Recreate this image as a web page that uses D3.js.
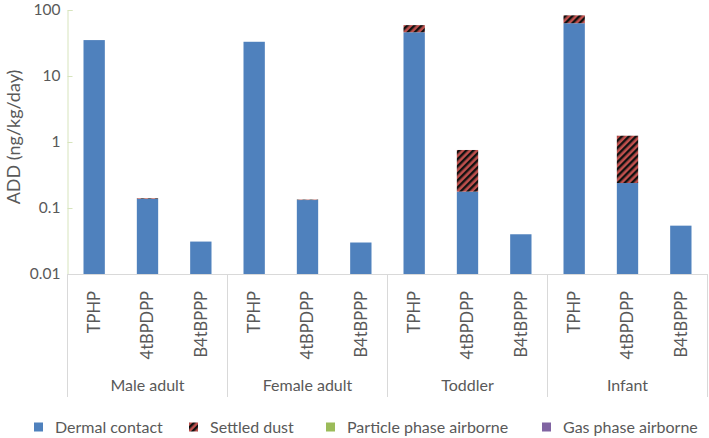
<!DOCTYPE html>
<html><head><meta charset="utf-8">
<script src="https://cdn.jsdelivr.net/npm/d3@7"></script>
<style>body{margin:0;background:#fff}svg{display:block;font-family:Lato,"Open Sans",sans-serif}</style>
</head><body><svg id="c" width="709" height="438"></svg>
<script>
const groups = ["Male adult","Female adult","Toddler","Infant"];
const compounds = ["TPHP","4tBPDPP","B4tBPPP"];
const yTicks = [0.01,0.1,1,10,100];
const seriesNames = ["Dermal contact","Settled dust","Particle phase airborne","Gas phase airborne"];
// values per group x compound (row-major)
const dermal   = [35,0.137,0.031, 33,0.132,0.030, 46,0.177,0.040, 63,0.239,0.054];
const settled  = [0,0.003,0, 0,0.002,0, 13,0.58,0, 20,1.006,0];
const particle = [0,0,0, 0,0,0, 0,0,0, 0,0,0];
const gas      = [0,0,0, 0,0,0, 0,0,0, 0,0,0];
const colors = ["#4f81bd","url(#hatch)","#9bbb59","#8064a2"];

const svg = d3.select("#c");
const defs = svg.append("defs");
const pat = defs.append("pattern").attr("id","hatch").attr("patternUnits","userSpaceOnUse")
  .attr("width",5).attr("height",5).attr("patternTransform","rotate(45)");
pat.append("rect").attr("width",5).attr("height",5).attr("fill","#c0504d");
pat.append("rect").attr("width",2.4).attr("height",5).attr("fill","#111");

const x0 = d3.scaleBand().domain(groups).range([67.5,707.5]);
const x1 = d3.scaleBand().domain(compounds).range([0,x0.bandwidth()]).paddingInner(0.6).paddingOuter(0.3);
const y = d3.scaleLog().domain([0.01,100]).range([274,10]);
const textCol = "#595959";

// y axis
const ya = svg.append("g").attr("transform","translate(67.5,0)")
  .call(d3.axisLeft(y).tickValues(yTicks).tickSize(-5).tickPadding(7).tickFormat(d=>String(d)));
ya.select(".domain").attr("stroke","#d7e4bd");
ya.selectAll(".tick line").attr("stroke","#d7e4bd");
ya.selectAll("text").attr("fill",textCol).style("font-size","15.5px").style("font-family","Lato,sans-serif");

// bars
const series = [dermal,settled,particle,gas];
const data = [];
groups.forEach((g,gi)=>compounds.forEach((c,ci)=>{
  let base = 0;
  series.forEach((s,si)=>{
    const v = s[gi*3+ci];
    const lo = si===0 ? 0.01 : base;
    const hi = base + v;
    if(v>0) data.push({g,c,si,lo,hi});
    base = hi;
  });
}));
svg.append("g").selectAll("rect").data(data).join("rect")
  .attr("x",d=>x0(d.g)+x1(d.c)).attr("width",x1.bandwidth())
  .attr("y",d=>y(d.hi)).attr("height",d=>Math.max(0,y(d.lo)-y(d.hi)))
  .attr("fill",d=>colors[d.si]);

// x axis
const xa = svg.append("g");
xa.append("line").attr("x1",67.5).attr("x2",707.5).attr("y1",274.5).attr("y2",274.5).attr("stroke","#d9d9d9");
const bounds = groups.map(g=>x0(g)).concat([x0.range()[1]]);
xa.selectAll(".sep").data(bounds).join("line").attr("class","sep")
  .attr("x1",d=>d).attr("x2",d=>d).attr("y1",274).attr("y2",397).attr("stroke","#d9d9d9");
groups.forEach(g=>{
  compounds.forEach(c=>{
    const cx = x0(g)+x1(c)+x1.bandwidth()/2;
    xa.append("text").attr("transform",`translate(${cx},291) rotate(-90)`)
      .attr("text-anchor","end").attr("dy","0.36em").attr("fill",textCol).style("font-size","16.5px").text(c);
  });
  xa.append("text").attr("x",x0(g)+x0.bandwidth()/2).attr("y",391).attr("text-anchor","middle")
    .attr("fill",textCol).style("font-size","16px").text(g);
});

// y title
svg.append("text").attr("transform","translate(14,137) rotate(-90)").attr("text-anchor","middle")
  .attr("dy","0.35em").attr("fill",textCol).style("font-size","18px").text("ADD (ng/kg/day)");

// legend
const legX = [34,189,326,542];
const lg = svg.append("g");
seriesNames.forEach((n,i)=>{
  lg.append("rect").attr("x",legX[i]).attr("y",422.5).attr("width",9).attr("height",9).attr("fill",colors[i]);
  lg.append("text").attr("x",legX[i]+21).attr("y",427).attr("dy","0.35em").attr("fill",textCol)
    .style("font-size","16px").text(n);
});
</script></body></html>
